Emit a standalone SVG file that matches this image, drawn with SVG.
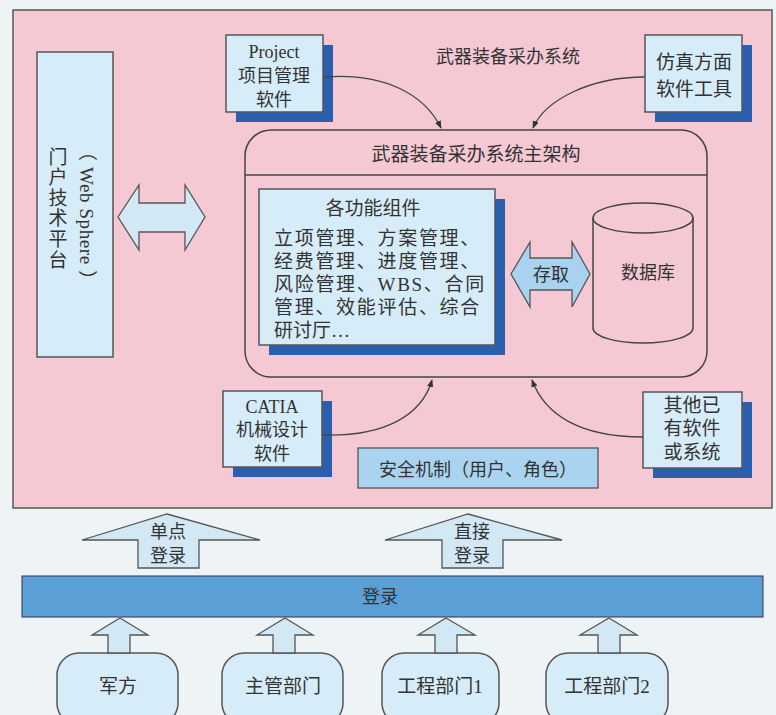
<svg xmlns="http://www.w3.org/2000/svg" width="776" height="715" viewBox="0 0 776 715">
<style>
  text { font-family: "Liberation Serif", "Noto Sans CJK SC", serif; fill: #333; }
  .box { fill: #d6ecf8; stroke: #555; stroke-width: 1.5; }
  .shadow { fill: #2a5fb0; }
  .line { fill: none; stroke: #444; stroke-width: 1.3; }
  .arrowfill { fill: #d2e8f5; stroke: #555; stroke-width: 1.3; }
  .t18 { font-size: 18px; }
  .t19 { font-size: 19px; }
  .c { text-anchor: middle; }
</style>
<defs>
  <marker id="ah" viewBox="0 0 10 10" refX="9" refY="5" markerWidth="6" markerHeight="6" orient="auto">
    <path d="M0,1 L10,5 L0,9 z" fill="#333"/>
  </marker>
</defs>
<rect x="0" y="0" width="776" height="715" fill="#eef3f6"/>
<g id="system">
  <rect x="13" y="10" width="759" height="498" fill="#f5c9d3" stroke="#555" stroke-width="1.5"/>
  <text class="t18 c" x="508" y="63">武器装备采办系统</text>
</g>
<g id="portal">
  <rect x="37" y="52" width="76" height="305" class="box"/>
  <text class="t19 c" x="58" y="164">门</text>
  <text class="t19 c" x="58" y="184">户</text>
  <text class="t19 c" x="58" y="205">技</text>
  <text class="t19 c" x="58" y="225">术</text>
  <text class="t19 c" x="58" y="246">平</text>
  <text class="t19 c" x="58" y="267">台</text>
  <text class="t19" x="0" y="0" letter-spacing="0.6" transform="translate(80,142) rotate(90)">（ Web Sphere ）</text>
</g>
<g id="main">
  <rect x="245" y="130" width="462" height="247" rx="26" fill="none" stroke="#444" stroke-width="1.5"/>
  <line x1="245" y1="175" x2="707" y2="175" stroke="#444" stroke-width="1.5"/>
  <text class="t19 c" x="476" y="161">武器装备采办系统主架构</text>
</g>
<g id="functions">
  <rect x="269" y="199" width="236" height="156" class="shadow"/>
  <rect x="259" y="189" width="236" height="156" class="box"/>
  <text class="t19 c" x="373" y="215">各功能组件</text>
  <text class="t19" x="274" y="245" letter-spacing="1.7">立项管理、方案管理、</text>
  <text class="t19" x="274" y="268" letter-spacing="1.7">经费管理、进度管理、</text>
  <text class="t19" x="274" y="291" letter-spacing="1.7">风险管理、WBS、合同</text>
  <text class="t19" x="274" y="314" letter-spacing="1.7">管理、效能评估、综合</text>
  <text class="t19" x="274" y="337">研讨厅…</text>
</g>
<g id="database">
  <path d="M593,218 V328 A50,15 0 0 0 693,328 V218" fill="none" stroke="#444" stroke-width="1.5"/>
  <ellipse cx="643" cy="218" rx="50" ry="15" fill="none" stroke="#444" stroke-width="1.5"/>
  <text class="t18 c" x="648" y="279">数据库</text>
</g>
<g id="project">
  <rect x="236" y="45" width="97" height="77" class="shadow"/>
  <rect x="226" y="35" width="97" height="77" class="box"/>
  <text class="t18 c" x="274" y="58">Project</text>
  <text class="t18 c" x="274" y="82">项目管理</text>
  <text class="t18 c" x="274" y="106">软件</text>
</g>
<g id="simulation">
  <rect x="655" y="45" width="97" height="77" class="shadow"/>
  <rect x="645" y="35" width="97" height="77" class="box"/>
  <text class="t19 c" x="694" y="69">仿真方面</text>
  <text class="t19 c" x="694" y="96">软件工具</text>
</g>
<g id="catia">
  <rect x="233" y="401" width="99" height="76" class="shadow"/>
  <rect x="223" y="391" width="99" height="76" class="box"/>
  <text class="t18 c" x="272" y="413">CATIA</text>
  <text class="t18 c" x="272" y="436">机械设计</text>
  <text class="t18 c" x="272" y="460">软件</text>
</g>
<g id="other">
  <rect x="653" y="402" width="99" height="76" class="shadow"/>
  <rect x="643" y="392" width="99" height="76" class="box"/>
  <text class="t19 c" x="692" y="412">其他已</text>
  <text class="t19 c" x="692" y="435">有软件</text>
  <text class="t19 c" x="692" y="459">或系统</text>
</g>
<g id="security">
  <rect x="358" y="448" width="240" height="40" fill="#a9d3ef" stroke="#555" stroke-width="1.3"/>
  <text class="t18 c" x="478" y="476">安全机制（用户、角色）</text>
</g>
<g id="login">
  <rect x="22" y="576" width="741" height="41" fill="#5b9fd7" stroke="#335" stroke-width="1"/>
  <text class="t18 c" x="380" y="603">登录</text>
</g>
<g id="army">
  <rect x="57" y="653" width="121" height="72" rx="22" class="box"/>
  <text class="t19 c" x="118" y="693">军方</text>
</g>
<g id="dept">
  <rect x="222" y="653" width="121" height="72" rx="22" class="box"/>
  <text class="t19 c" x="283" y="693">主管部门</text>
</g>
<g id="eng1">
  <rect x="382" y="653" width="117" height="72" rx="22" class="box"/>
  <text class="t19 c" x="440" y="693">工程部门1</text>
</g>
<g id="eng2">
  <rect x="546" y="653" width="122" height="72" rx="22" class="box"/>
  <text class="t19 c" x="607" y="693">工程部门2</text>
</g>
<g id="connectors">
  <polygon points="118,217 139,185 139,203 185,203 185,185 205,217 185,250 185,232 139,232 139,250" class="arrowfill"/>
  <polygon points="511,274 530,242 530,258 572,258 572,242 590,274 572,307 572,290 530,290 530,307" fill="#a8d2ee" stroke="#555" stroke-width="1.3"/>
  <text class="t18 c" x="551" y="281">存取</text>
  <path d="M323,77 C385,72 425,95 441,128" class="line" marker-end="url(#ah)"/>
  <path d="M645,77 C590,77 545,100 533,128" class="line" marker-end="url(#ah)"/>
  <path d="M322,435 C385,437 422,415 432,380" class="line" marker-end="url(#ah)"/>
  <path d="M643,437 C580,437 545,415 532,380" class="line" marker-end="url(#ah)"/>
  <polygon points="167,514 260,540 199,540 199,568 138,568 138,540 82,540" class="arrowfill"/>
  <text class="t18 c" x="168" y="538">单点</text>
  <text class="t18 c" x="168" y="562">登录</text>
  <polygon points="468,514 562,540 503,540 503,568 442,568 442,540 385,540" class="arrowfill"/>
  <text class="t18 c" x="472" y="538">直接</text>
  <text class="t18 c" x="472" y="562">登录</text>
  <polygon points="120,618 148,635 130,635 130,653 108,653 108,635 92,635" class="arrowfill"/>
  <polygon points="285,618 313,635 295,635 295,653 273,653 273,635 257,635" class="arrowfill"/>
  <polygon points="446,618 475,635 457,635 457,653 435,653 435,635 418,635" class="arrowfill"/>
  <polygon points="609,618 637,635 620,635 620,653 598,653 598,635 580,635" class="arrowfill"/>
</g>
</svg>
